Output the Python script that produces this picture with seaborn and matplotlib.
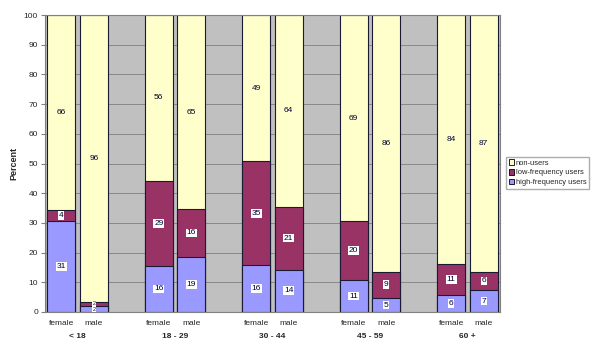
import pandas as pd
import seaborn as sns
import matplotlib.pyplot as plt
from matplotlib.patches import Patch
from matplotlib.transforms import blended_transform_factory

# Datos
grupos_edad = ["< 18", "18 - 29", "30 - 44", "45 - 59", "60 +"]
sexos = ["female", "male"]
alta_frec = [30.6, 1.9, 15.6, 18.6, 15.7, 14.3, 10.7, 4.7, 5.6, 7.4]
baja_frec = [3.8, 1.6, 28.6, 16.0, 35.0, 21.2, 19.9, 8.9, 10.6, 6.1]
no_usuarios = [65.6, 96.4, 55.8, 65.4, 49.3, 64.4, 69.4, 86.4, 83.8, 86.6]
series = ["non-users", "low-frequency users", "high-frequency users"]
colores = {"non-users": "#FFFFCC", "low-frequency users": "#993366",
           "high-frequency users": "#9999FF"}

# Tabla con una fila por barra
filas = []
i = 0
for g in grupos_edad:
    for s in sexos:
        filas.append({"slot": f"{g}|{s}", "grupo": g, "sexo": s,
                      "alta": alta_frec[i], "baja": baja_frec[i], "no": no_usuarios[i]})
        i += 1
datos = pd.DataFrame(filas)
datos["c_alta"] = datos["alta"]
datos["c_baja"] = datos["alta"] + datos["baja"]
datos["c_no"] = datos["c_baja"] + datos["no"]

# Orden con huecos entre grupos
orden = []
for k, g in enumerate(grupos_edad):
    orden += [f"{g}|female", f"{g}|male"]
    if k < len(grupos_edad) - 1:
        orden.append(f"hueco{k}")

sns.set_style("white")
plt.rcParams["font.family"] = ["Liberation Sans", "DejaVu Sans"]

fig = plt.figure(figsize=(6, 3.56), dpi=100)
ax = fig.add_axes([45 / 600, 1 - 312 / 356, 455 / 600, 297 / 356])
ax.set_facecolor("#C0C0C0")
ax.set_axisbelow(True)
ax.yaxis.grid(True, color="#808080", linewidth=0.6)

borde = "#1a1a33"
for col, serie in [("c_no", "non-users"), ("c_baja", "low-frequency users"),
                   ("c_alta", "high-frequency users")]:
    sns.barplot(data=datos, x="slot", y=col, order=orden, color=colores[serie],
                width=0.85, edgecolor=borde, linewidth=0.8, saturation=1, ax=ax)

# Etiquetas de valores
for _, r in datos.iterrows():
    xp = orden.index(r["slot"])
    for base, val, caja in [(0, r["alta"], "white"), (r["c_alta"], r["baja"], "white"),
                            (r["c_baja"], r["no"], "none")]:
        tam = 6 if val >= 3 else 3.8
        ax.text(xp, base + val / 2, f"{val:.0f}", ha="center", va="center",
                fontsize=tam, color="#000033",
                bbox=dict(boxstyle="square,pad=0.1", facecolor=caja, edgecolor="none"))

ax.set_ylim(0, 100)
ax.set_xlim(-0.5, len(orden) - 0.5)
ax.set_yticks(range(0, 101, 10))
ax.tick_params(axis="y", labelsize=6, length=3, color="#808080", pad=2, left=True)
ax.set_xticks(range(len(orden)))
ax.set_xticklabels([o.split("|")[1] if "|" in o else "" for o in orden], fontsize=6)
ax.tick_params(axis="x", length=0, pad=6)
ax.set_xlabel("")
ax.set_ylabel("Percent", fontsize=6.5, fontweight="bold", labelpad=4)
for sp in ax.spines.values():
    sp.set_color("#808080")
    sp.set_linewidth(0.8)

trans = blended_transform_factory(ax.transData, ax.transAxes)
for g in grupos_edad:
    xc = (orden.index(f"{g}|female") + orden.index(f"{g}|male")) / 2
    ax.text(xc, -0.084, g, transform=trans, ha="center", va="center",
            fontsize=6, fontweight="bold")

manijas = [Patch(facecolor=colores[s], edgecolor="black", linewidth=0.6) for s in series]
fig.legend(manijas, series, loc="lower left", bbox_to_anchor=(506 / 600, 1 - 189 / 356),
           fontsize=5.4, frameon=True, fancybox=False, edgecolor="#999999",
           handlelength=0.7, handleheight=0.7, handletextpad=0.25, labelspacing=0.35,
           borderpad=0.35, borderaxespad=0)

plt.savefig("out.png", dpi=100)
plt.close()
